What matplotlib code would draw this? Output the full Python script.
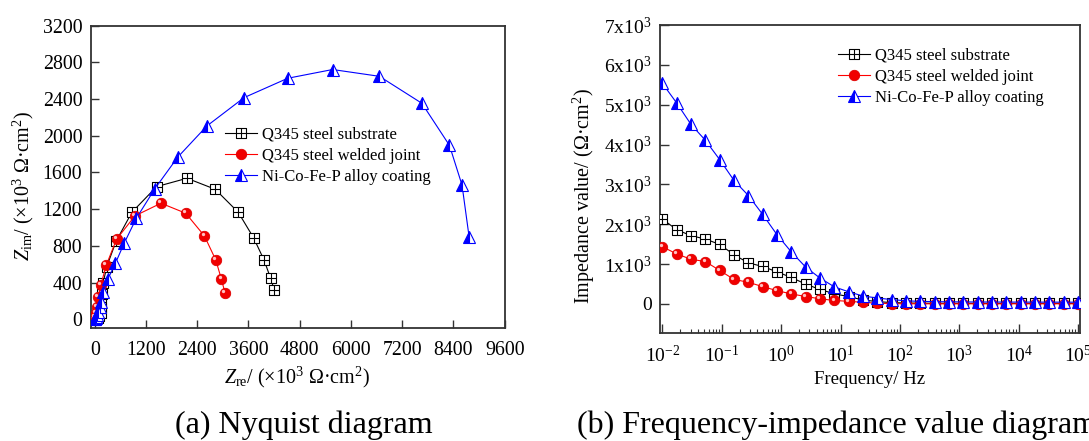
import matplotlib
matplotlib.use('Agg')
import matplotlib.pyplot as plt
import matplotlib.transforms as mtransforms
from matplotlib.path import Path
from matplotlib.ticker import FixedLocator, LogLocator, NullFormatter

plt.rcParams['font.family'] = ['Liberation Serif', 'DejaVu Serif']
plt.rcParams['mathtext.fontset'] = 'custom'
plt.rcParams['mathtext.rm'] = 'Liberation Serif'
plt.rcParams['mathtext.it'] = 'Liberation Serif:italic'
plt.rcParams['mathtext.bf'] = 'Liberation Serif:bold'

# ---------------- data ----------------
series_names = ['Q345 steel substrate', 'Q345 steel welded joint', 'Ni-Co-Fe-P alloy coating']

# (a) Nyquist: Z_re, Z_im  (x10^3 ohm cm^2), high frequency -> low frequency
nyq_sub_re = [20, 40, 70, 110, 140, 150, 150, 160, 200, 282, 500, 870, 1451, 2160, 2821, 3361, 3723, 3965, 4118, 4207]
nyq_sub_im = [2, 5, 15, 35, 70, 120, 190, 280, 400, 574, 850, 1166, 1446, 1537, 1417, 1166, 885, 645, 447, 316]

nyq_weld_re = [1, 3, 8, 20, 43, 82, 145, 270, 512, 942, 1552, 2130, 2568, 2834, 2967, 3053]
nyq_weld_im = [3, 10, 30, 70, 138, 240, 375, 589, 873, 1127, 1265, 1156, 909, 647, 436, 284]

nyq_coat_re = [5, 10, 20, 35, 55, 82, 113, 145, 201, 306, 484, 693, 975, 1410, 1942, 2627, 3498,
               4521, 5570, 6665, 7660, 8306, 8600, 8766]
nyq_coat_im = [2, 5, 11, 25, 50, 84, 138, 193, 298, 436, 610, 832, 1101, 1424, 1766, 2107, 2416,
               2627, 2722, 2648, 2354, 1895, 1462, 897]

nyq_xticks = [0, 1200, 2400, 3600, 4800, 6000, 7200, 8400, 9600]
nyq_yticks = [0, 400, 800, 1200, 1600, 2000, 2400, 2800, 3200]

# (b) Frequency - impedance value
freq = [0.01, 0.01743, 0.03039, 0.05298, 0.09237, 0.161, 0.2807, 0.4894, 0.8532, 1.487,
        2.593, 4.521, 7.882, 13.74, 23.95, 41.76, 72.8, 126.9, 221.3, 385.8,
        672.6, 1172, 2044, 3563, 6212, 10830, 18880, 32910, 57370, 100000]
imp_sub = [2132, 1865, 1714, 1630, 1495, 1236, 1031, 942, 805, 666,
           498, 365, 255, 185, 100, 60, 35, 25, 20, 18,
           17, 16, 16, 15, 15, 15, 15, 15, 15, 15]
imp_weld = [1437, 1257, 1122, 1065, 842, 616, 545, 436, 335, 252,
            188, 130, 88, 67, 42, 20, 10, 6, 5, 5,
            5, 5, 5, 5, 5, 5, 5, 5, 5, 5]
imp_coat = [5537, 5044, 4505, 4108, 3623, 3100, 2722, 2247, 1737, 1305,
            925, 650, 430, 305, 200, 150, 110, 80, 65, 58,
            55, 52, 50, 50, 48, 48, 47, 47, 46, 46]

bode_yticks = [0, 1000, 2000, 3000, 4000, 5000, 6000, 7000]
bode_ytick_labels = ['0', r'$\mathregular{1x10^{3}}$', r'$\mathregular{2x10^{3}}$', r'$\mathregular{3x10^{3}}$',
                     r'$\mathregular{4x10^{3}}$', r'$\mathregular{5x10^{3}}$', r'$\mathregular{6x10^{3}}$',
                     r'$\mathregular{7x10^{3}}$']
bode_xticks = [1e-2, 1e-1, 1e0, 1e1, 1e2, 1e3, 1e4, 1e5]
bode_xtick_labels = [r'$\mathregular{10^{-2}}$', r'$\mathregular{10^{-1}}$', r'$\mathregular{10^{0}}$',
                     r'$\mathregular{10^{1}}$', r'$\mathregular{10^{2}}$', r'$\mathregular{10^{3}}$',
                     r'$\mathregular{10^{4}}$', r'$\mathregular{10^{5}}$']

# ---------------- styles ----------------
sq_cross = Path([(-1, -1), (1, -1), (1, 1), (-1, 1), (-1, -1), (0, -1), (0, 1), (-1, 0), (1, 0)],
                [Path.MOVETO, Path.LINETO, Path.LINETO, Path.LINETO, Path.CLOSEPOLY,
                 Path.MOVETO, Path.LINETO, Path.MOVETO, Path.LINETO])

sty_sub = dict(color='black', lw=0.8, marker=sq_cross, ms=6.5, mfc='white', mec='black', mew=0.8, zorder=3)
sty_weld = dict(color='red', lw=0.8, marker='o', ms=7.5, mfc='#f00000', mec='#e00000', mew=0.6, zorder=4)
sty_coat = dict(color='blue', lw=0.8, marker='^', ms=8.5, fillstyle='left', mfc='blue',
                markerfacecoloralt='white', mec='blue', mew=0.8, zorder=5)

SPINE_C = '#333333'

fig = plt.figure(figsize=(10.89, 4.41), dpi=100)
axA = fig.add_axes([0.0832, 0.2556, 0.3803, 0.6862])
axB = fig.add_axes([0.6061, 0.2456, 0.3857, 0.6977])


def highlight(ax, x, y):
    off = mtransforms.ScaledTranslation(-1.3 / 72, 1.3 / 72, fig.dpi_scale_trans)
    ax.plot(x, y, ls='none', marker='o', ms=2.4, mfc='#ffc0c0', mec='none',
            transform=ax.transData + off, zorder=4.5)


# ---------------- (a) Nyquist ----------------
hA1, = axA.plot(nyq_sub_re, nyq_sub_im, **sty_sub)
hA2, = axA.plot(nyq_weld_re, nyq_weld_im, **sty_weld)
highlight(axA, nyq_weld_re, nyq_weld_im)
hA3, = axA.plot(nyq_coat_re, nyq_coat_im, **sty_coat)

axA.set_xlim(-96, 9600)
axA.set_ylim(-98, 3200)
axA.xaxis.set_major_locator(FixedLocator(nyq_xticks))
axA.yaxis.set_major_locator(FixedLocator(nyq_yticks))
axA.tick_params(direction='in', length=5.5, width=1.0, color=SPINE_C, labelsize=14.3, pad=6,
                top=False, right=False)
axA.tick_params(axis='x', pad=9)

axA.legend([hA1, hA2, hA3], series_names, loc='upper left',
           bbox_to_anchor=(224.5 / 1089, 1 - 126.5 / 441), bbox_transform=fig.transFigure,
           frameon=False, fontsize=12, borderpad=0, borderaxespad=0, handlelength=1.95,
           handletextpad=0.3, labelspacing=0.32)

fig.text(23 / 1089, 1 - 186 / 441,
         r'$Z_{\mathregular{im}}$/ (×10$^{3}$ Ω·cm$^{2}$)', rotation=90,
         ha='center', va='center', fontsize=14.5)
fig.text(297 / 1089, 1 - 377 / 441,
         r'$Z_{\mathregular{re}}$/ (×10$^{3}$ Ω·cm$^{2}$)',
         ha='center', va='center', fontsize=14.5)

# ---------------- (b) Frequency-impedance ----------------
hB1, = axB.plot(freq, imp_sub, **sty_sub)
hB2, = axB.plot(freq, imp_weld, **sty_weld)
highlight(axB, freq, imp_weld)
hB3, = axB.plot(freq, imp_coat, **sty_coat)

axB.set_xscale('log')
axB.set_xlim(0.00915, 1.08e5)
axB.set_ylim(-720, 7000)
axB.set_xticks(bode_xticks)
axB.set_xticklabels(bode_xtick_labels)
axB.xaxis.set_minor_locator(LogLocator(base=10, subs=[2, 3, 4, 5, 6, 7, 8, 9], numticks=20))
axB.xaxis.set_minor_formatter(NullFormatter())
axB.set_yticks(bode_yticks)
axB.set_yticklabels(bode_ytick_labels)
axB.tick_params(which='major', direction='in', length=6.3, width=1.0, color=SPINE_C,
                labelsize=14, pad=6, top=False, right=False)
axB.tick_params(axis='x', which='major', pad=9)
axB.tick_params(which='minor', direction='in', length=3, width=0.8, color=SPINE_C,
                top=False, right=False, left=False)

axB.legend([hB1, hB2, hB3], series_names, loc='upper left',
           bbox_to_anchor=(837.6 / 1089, 1 - 47.5 / 441), bbox_transform=fig.transFigure,
           frameon=False, fontsize=12, borderpad=0, borderaxespad=0, handlelength=1.95,
           handletextpad=0.3, labelspacing=0.32)

fig.text(584 / 1089, 1 - 196 / 441, r'Impedance value/ (Ω·cm$^{2}$)', rotation=90,
         ha='center', va='center', fontsize=14.5)
fig.text(870 / 1089, 1 - 379 / 441, 'Frequency/ Hz', ha='center', va='center', fontsize=13.5)

for ax in (axA, axB):
    for sp in ax.spines.values():
        sp.set_color(SPINE_C)
        sp.set_linewidth(1.3)

# ---------------- captions ----------------
fig.text(304 / 1089, 1 - 433 / 441, '(a) Nyquist diagram', ha='center', va='baseline', fontsize=23)
fig.text(577 / 1089, 1 - 433 / 441, '(b) Frequency-impedance value diagram', ha='left',
         va='baseline', fontsize=23)

fig.savefig('out.png', dpi=100)
